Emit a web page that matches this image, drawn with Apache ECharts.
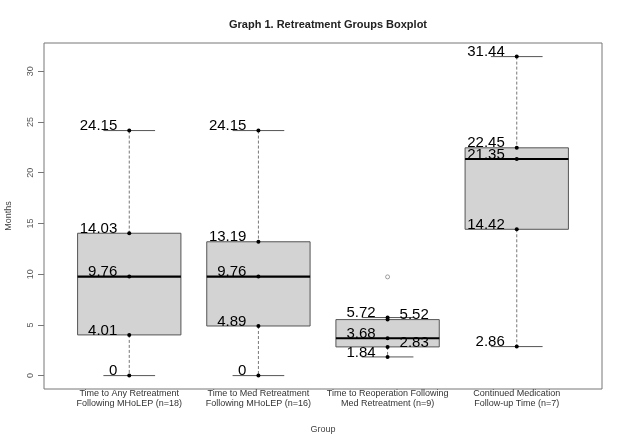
<!DOCTYPE html>
<html>
<head>
<meta charset="utf-8">
<script src="https://cdn.jsdelivr.net/npm/echarts@6/dist/echarts.min.js"></script>
<style>html,body{margin:0;padding:0;background:#fff;}#c{width:624px;height:443px;}</style>
</head>
<body>
<div id="c"></div>
<script>
const titleText = 'Graph 1. Retreatment Groups Boxplot';
const categories = [
  'Time to Any Retreatment\nFollowing MHoLEP (n=18)',
  'Time to Med Retreatment\nFollowing MHoLEP (n=16)',
  'Time to Reoperation Following\nMed Retreatment (n=9)',
  'Continued Medication\nFollow-up Time (n=7)'
];
const whiskerLow  = [0, 0, 1.84, 2.86];
const q1          = [4.01, 4.89, 2.83, 14.42];
const median      = [9.76, 9.76, 3.68, 21.35];
const q3          = [14.03, 13.19, 5.52, 22.45];
const whiskerHigh = [24.15, 24.15, 5.72, 31.44];
const outlierGroup = [3];
const outlierValue = [9.73];
const yTicks = [0, 5, 10, 15, 20, 25, 30];
const xTicks = [1, 2, 3, 4];

const FONT = 'Liberation Sans, Arial, sans-serif';

const boxData = categories.map((c, i) => [i + 1, whiskerLow[i], q1[i], median[i], q3[i], whiskerHigh[i]]);
const outlierData = outlierGroup.map((g, i) => [g, outlierValue[i]]);

function renderItem(params, api) {
  const gi = params.dataIndex;
  const x = api.value(0);
  const vals = [api.value(1), api.value(2), api.value(3), api.value(4), api.value(5)];
  const keys = ['lo', 'q1', 'med', 'q3', 'hi'];
  const pts = vals.map(v => api.coord([x, v]));
  const cx = pts[0][0];
  const boxW = api.size([0.8, 0])[0];
  const capW = boxW / 2;
  const children = [];
  children.push({type: 'line', shape: {x1: cx, y1: pts[4][1], x2: cx, y2: pts[3][1]},
    style: {stroke: '#777', lineWidth: 1, lineDash: [3, 2]}});
  children.push({type: 'line', shape: {x1: cx, y1: pts[1][1], x2: cx, y2: pts[0][1]},
    style: {stroke: '#777', lineWidth: 1, lineDash: [3, 2]}});
  children.push({type: 'line', shape: {x1: cx - capW / 2, y1: pts[4][1], x2: cx + capW / 2, y2: pts[4][1]},
    style: {stroke: '#555', lineWidth: 1}});
  children.push({type: 'line', shape: {x1: cx - capW / 2, y1: pts[0][1], x2: cx + capW / 2, y2: pts[0][1]},
    style: {stroke: '#555', lineWidth: 1}});
  children.push({type: 'rect', shape: {x: cx - boxW / 2, y: pts[3][1], width: boxW, height: pts[1][1] - pts[3][1]},
    style: {fill: '#d3d3d3', stroke: '#555', lineWidth: 1}});
  children.push({type: 'line', shape: {x1: cx - boxW / 2, y1: pts[2][1], x2: cx + boxW / 2, y2: pts[2][1]},
    style: {stroke: '#000', lineWidth: 2.2}});
  pts.forEach((p, k) => {
    children.push({type: 'circle', shape: {cx: cx, cy: p[1], r: 2}, style: {fill: '#000'}, z2: 10});
    const right = gi === 2 && (keys[k] === 'q1' || keys[k] === 'q3');
    children.push({type: 'text', z2: 11, style: {
      text: String(vals[k]), x: right ? cx + 12 : cx - 12, y: p[1] + 3,
      align: right ? 'left' : 'right', verticalAlign: 'bottom',
      fontSize: 15, fontFamily: FONT, fill: '#000'}});
  });
  return {type: 'group', children: children};
}

const chart = echarts.init(document.getElementById('c'), null, {renderer: 'canvas'});
chart.setOption({
  backgroundColor: '#fff',
  animation: false,
  title: {
    text: titleText, left: 323, textAlign: 'center', top: 14,
    textStyle: {fontSize: 11, fontWeight: 'bold', fontFamily: FONT, color: '#222'}
  },
  grid: {left: 44, right: 22, top: 43, bottom: 54, outerBoundsMode: 'none', containLabel: false,
    show: true, borderColor: '#777', borderWidth: 1, backgroundColor: 'transparent'},
  xAxis: {
    type: 'value', min: 0.34, max: 4.66,
    name: 'Group', nameLocation: 'middle', nameGap: 36,
    nameTextStyle: {fontSize: 9, fontFamily: FONT, color: '#444'},
    axisLine: {show: false}, axisTick: {show: false}, splitLine: {show: false},
    axisLabel: {customValues: xTicks, formatter: v => categories[Math.round(v) - 1] || '',
      fontSize: 9, fontFamily: FONT, color: '#333', lineHeight: 10, margin: 0}
  },
  yAxis: {
    type: 'value', min: -1.32, max: 32.78,
    name: 'Months', nameLocation: 'middle', nameGap: 31,
    nameTextStyle: {fontSize: 9, fontFamily: FONT, color: '#444'},
    axisLine: {show: false}, splitLine: {show: false},
    axisTick: {show: true, customValues: yTicks, length: 6, lineStyle: {color: '#777'}},
    axisLabel: {customValues: yTicks, rotate: 90, fontSize: 9, fontFamily: FONT, color: '#555', margin: 9}
  },
  series: [
    {type: 'custom', renderItem: renderItem, data: boxData, encode: {x: 0, y: [1, 2, 3, 4, 5]}},
    {type: 'scatter', data: outlierData, symbol: 'circle', symbolSize: 4,
      itemStyle: {color: '#fff', borderColor: '#888', borderWidth: 1}}
  ]
});
</script>
</body>
</html>
